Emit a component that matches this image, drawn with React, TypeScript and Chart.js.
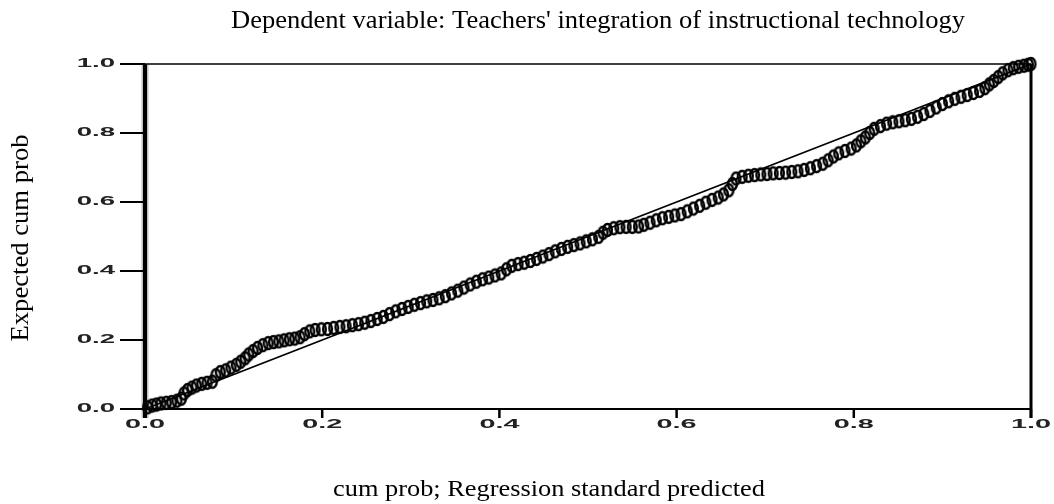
import React, { useEffect, useRef } from "react";
import { Chart, registerables } from "chart.js";

Chart.register(...registerables);

const obsCumProb = [
  0.003, 0.008, 0.013, 0.018, 0.024, 0.030, 0.036, 0.041,
  0.044, 0.048, 0.053, 0.058, 0.064, 0.070, 0.076,
  0.080, 0.085, 0.091, 0.097, 0.103, 0.108, 0.113, 0.117, 0.122, 0.127, 0.133, 0.139, 0.145, 0.151, 0.157, 0.163, 0.169, 0.175, 0.180, 0.186, 0.192, 0.199,
  0.206, 0.213, 0.220, 0.227, 0.234, 0.241, 0.248, 0.255, 0.262, 0.269, 0.276, 0.283, 0.290, 0.297, 0.304, 0.311, 0.318, 0.325, 0.332, 0.339, 0.346, 0.353, 0.360, 0.367, 0.374, 0.381, 0.388, 0.395,
  0.402, 0.408, 0.414, 0.421, 0.428, 0.435, 0.442, 0.449, 0.456, 0.463, 0.470, 0.477, 0.484, 0.491, 0.498, 0.505, 0.512, 0.517, 0.522, 0.529, 0.536, 0.543, 0.550, 0.557, 0.563, 0.570, 0.577, 0.584, 0.591, 0.598,
  0.605, 0.612, 0.619, 0.626, 0.633, 0.640, 0.647, 0.653, 0.659, 0.663, 0.667, 0.674, 0.681, 0.688, 0.695, 0.702, 0.709, 0.716, 0.723, 0.730, 0.737, 0.744, 0.751, 0.758, 0.765, 0.771, 0.777, 0.783, 0.790, 0.797,
  0.803, 0.808, 0.813, 0.818, 0.823, 0.830, 0.837, 0.844, 0.851, 0.858, 0.865, 0.872, 0.879, 0.886, 0.893, 0.900, 0.907, 0.914, 0.921, 0.928, 0.935, 0.942, 0.948, 0.953, 0.958, 0.963, 0.968, 0.974, 0.980, 0.986, 0.992, 0.997, 1.0,
];
const expCumProb = [
  0.005, 0.010, 0.013, 0.016, 0.018, 0.020, 0.024, 0.030,
  0.045, 0.055, 0.062, 0.068, 0.073, 0.076, 0.079,
  0.098, 0.107, 0.112, 0.120, 0.128, 0.137, 0.147, 0.158, 0.168, 0.177, 0.185, 0.191, 0.194, 0.196, 0.199, 0.202, 0.204, 0.208, 0.217, 0.225, 0.229, 0.231,
  0.232, 0.235, 0.238, 0.240, 0.243, 0.246, 0.250, 0.255, 0.261, 0.267, 0.275, 0.283, 0.290, 0.296, 0.302, 0.307, 0.312, 0.316, 0.321, 0.327, 0.335, 0.343, 0.352, 0.361, 0.369, 0.376, 0.381, 0.387,
  0.393, 0.405, 0.415, 0.420, 0.424, 0.429, 0.435, 0.442, 0.449, 0.457, 0.464, 0.470, 0.475, 0.480, 0.486, 0.492, 0.499, 0.511, 0.519, 0.524, 0.527, 0.528, 0.528, 0.529, 0.534, 0.540, 0.547, 0.553, 0.557, 0.561,
  0.565, 0.573, 0.581, 0.589, 0.598, 0.606, 0.613, 0.622, 0.634, 0.652, 0.668, 0.673, 0.676, 0.678, 0.680, 0.681, 0.683, 0.684, 0.685, 0.687, 0.689, 0.693, 0.698, 0.704, 0.711, 0.721, 0.732, 0.741, 0.748, 0.755,
  0.764, 0.776, 0.787, 0.800, 0.812, 0.820, 0.827, 0.831, 0.834, 0.837, 0.841, 0.847, 0.855, 0.864, 0.874, 0.884, 0.892, 0.899, 0.905, 0.910, 0.916, 0.922, 0.930, 0.941, 0.951, 0.962, 0.973, 0.982, 0.988, 0.992, 0.995, 0.998, 1.0,
];

const diagonalX = [0, 1];
const diagonalY = [0, 1];

const tickValues = [0, 0.2, 0.4, 0.6, 0.8, 1.0];
const tickLabels = ["0.0", "0.2", "0.4", "0.6", "0.8", "1.0"];

const titleText = "Dependent variable: Teachers' integration of instructional technology";
const xTitleText = "cum prob; Regression standard predicted";
const yTitleText = "Expected cum prob";

const SERIF = "'Liberation Serif', 'Times New Roman', serif";
const SANS = "'Liberation Sans', Arial, sans-serif";

function makeMarker(): HTMLCanvasElement {
  const c = document.createElement("canvas");
  c.width = 13;
  c.height = 16;
  const g = c.getContext("2d")!;
  g.strokeStyle = "#000";
  g.lineWidth = 2.4;
  g.beginPath();
  g.ellipse(6.5, 8, 4.4, 6.0, 0, 0, Math.PI * 2);
  g.stroke();
  return c;
}

function drawFitted(
  ctx: CanvasRenderingContext2D,
  text: string,
  x: number,
  y: number,
  font: string,
  targetWidth: number | null,
  align: CanvasTextAlign,
  rotate = 0,
  stretch = 1
) {
  ctx.save();
  ctx.font = font;
  ctx.textAlign = align;
  ctx.textBaseline = "middle";
  ctx.translate(x, y);
  if (rotate) ctx.rotate(rotate);
  let sx = stretch;
  if (targetWidth) {
    const w = ctx.measureText(text).width;
    sx = targetWidth / w;
  }
  ctx.scale(sx, 1);
  ctx.fillText(text, 0, 0);
  ctx.restore();
}

const ppPlugin = {
  id: "ppAxes",
  afterDatasetsDraw(chart: any) {
    const ctx: CanvasRenderingContext2D = chart.ctx;
    const xs = chart.scales.x;
    const ys = chart.scales.y;
    const x0 = xs.getPixelForValue(0);
    const x1 = xs.getPixelForValue(1);
    const y0 = ys.getPixelForValue(0);
    const y1 = ys.getPixelForValue(1);
    ctx.save();
    ctx.strokeStyle = "#000";
    ctx.lineCap = "butt";

    ctx.lineWidth = 1.5;
    ctx.beginPath();
    ctx.moveTo(x0 - 25, y1);
    ctx.lineTo(x1, y1);
    ctx.stroke();

    ctx.lineWidth = 2;
    ctx.beginPath();
    ctx.moveTo(x0 - 25, y0);
    ctx.lineTo(x1, y0);
    ctx.stroke();

    ctx.lineWidth = 2;
    for (const v of tickValues) {
      const py = ys.getPixelForValue(v);
      ctx.beginPath();
      ctx.moveTo(x0 - 25, py);
      ctx.lineTo(x0, py);
      ctx.stroke();
    }
    ctx.lineWidth = 2.5;
    for (const v of tickValues) {
      const px = xs.getPixelForValue(v);
      ctx.beginPath();
      ctx.moveTo(px, y0);
      ctx.lineTo(px, y0 + 9);
      ctx.stroke();
    }

    ctx.strokeStyle = "rgba(0,0,0,0.25)";
    ctx.lineWidth = 7;
    ctx.beginPath();
    ctx.moveTo(x0, y1);
    ctx.lineTo(x0, y0 + 9);
    ctx.stroke();
    ctx.strokeStyle = "#000";
    ctx.lineWidth = 4;
    ctx.beginPath();
    ctx.moveTo(x0, y1);
    ctx.lineTo(x0, y0 + 9);
    ctx.stroke();

    ctx.lineWidth = 3;
    ctx.beginPath();
    ctx.moveTo(x1, y1);
    ctx.lineTo(x1, y0 + 9);
    ctx.stroke();
    ctx.restore();
  },
  afterDraw(chart: any) {
    const ctx: CanvasRenderingContext2D = chart.ctx;
    const xs = chart.scales.x;
    const ys = chart.scales.y;
    const x0 = xs.getPixelForValue(0);
    const y0 = ys.getPixelForValue(0);
    ctx.save();
    ctx.fillStyle = "#222";
    tickValues.forEach((v, i) => {
      drawFitted(ctx, tickLabels[i], x0 - 30, ys.getPixelForValue(v), `bold 12px ${SANS}`, null, "right", 0, 2.3);
      drawFitted(ctx, tickLabels[i], xs.getPixelForValue(v), y0 + 16, `bold 12px ${SANS}`, null, "center", 0, 2.4);
    });
    ctx.fillStyle = "#000";
    drawFitted(ctx, titleText, 598, 21, `26px ${SERIF}`, 734, "center");
    drawFitted(ctx, xTitleText, 549, 490, `24px ${SERIF}`, 432, "center");
    drawFitted(ctx, yTitleText, 21, 238, `26px ${SERIF}`, 207, "center", -Math.PI / 2);
    ctx.restore();
  },
};

export default function App() {
  const ref = useRef<HTMLCanvasElement | null>(null);

  useEffect(() => {
    if (!ref.current) return;
    const marker = makeMarker();
    const points = obsCumProb.map((x, i) => ({ x, y: expCumProb[i] }));
    const diag = diagonalX.map((x, i) => ({ x, y: diagonalY[i] }));
    const chart = new Chart(ref.current, {
      type: "scatter",
      data: {
        datasets: [
          {
            label: "reference",
            data: diag,
            showLine: true,
            borderColor: "#000",
            borderWidth: 1.8,
            pointRadius: 0,
            clip: false,
          } as any,
          {
            label: "points",
            data: points,
            pointStyle: marker as any,
            pointRadius: 6,
            borderColor: "#000",
            backgroundColor: "transparent",
            clip: false,
          } as any,
        ],
      },
      options: {
        animation: false,
        responsive: false,
        devicePixelRatio: 1,
        events: [],
        layout: { padding: { left: 145, right: 23, top: 64, bottom: 95 } },
        scales: {
          x: { type: "linear", min: 0, max: 1, display: false },
          y: { type: "linear", min: 0, max: 1, display: false },
        },
        plugins: {
          legend: { display: false },
          tooltip: { enabled: false },
          title: { display: false },
        },
      },
      plugins: [ppPlugin],
    });
    return () => chart.destroy();
  }, []);

  return (
    <div style={{ position: "absolute", left: 0, top: 0, width: 1054, height: 504, background: "#fff" }}>
      <canvas ref={ref} width={1054} height={504} style={{ width: 1054, height: 504, display: "block" }} />
    </div>
  );
}
